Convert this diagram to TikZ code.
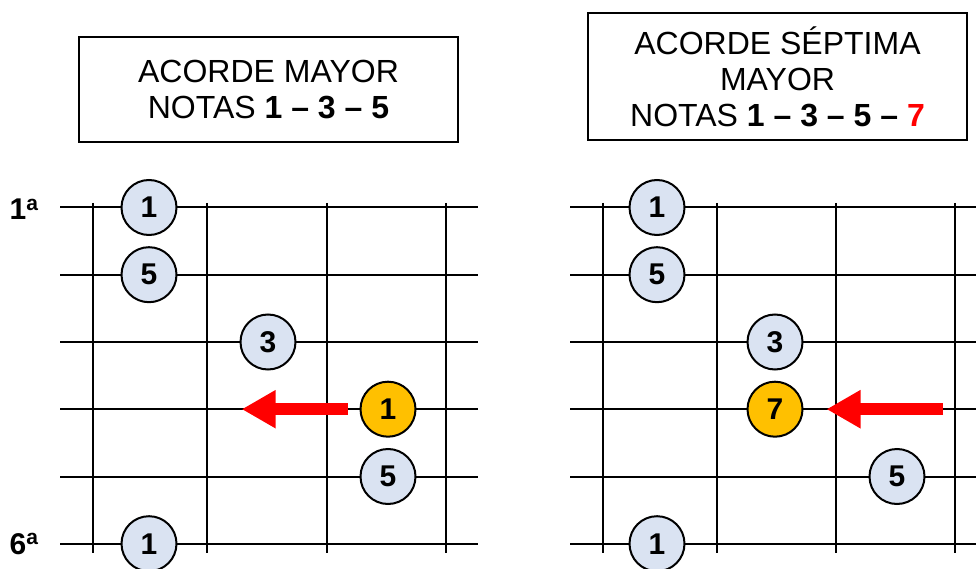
\documentclass[tikz,border=0pt]{standalone}
\usepackage{fontspec}
\setmainfont{Liberation Sans}
\usetikzlibrary{arrows.meta}

\definecolor{notaazul}{HTML}{DAE3F2}
\definecolor{notanaranja}{HTML}{FFC000}

\tikzset{
  cuerda/.style={line width=2pt},
  nota/.style={circle,draw,line width=2pt,fill=notaazul,minimum size=55pt,inner sep=0pt,
    font=\fontsize{30}{30}\selectfont\bfseries},
  notanueva/.style={nota,fill=notanaranja},
  titulo/.style={draw,line width=1.8pt,align=center,minimum width=379pt,
    font=\fontsize{32}{36}\selectfont},
  etiqueta/.style={anchor=base,font=\fontsize{30}{30}\selectfont\bfseries},
  flecha/.style={red,line width=12pt,-{Triangle[length=34pt,width=36pt]}},
}

\begin{document}
\begin{tikzpicture}[x=1pt,y=-1pt]
  \useasboundingbox (0,0) rectangle (976,569);

  % Titles
  \node[titulo,minimum height=105pt] (tituloA) at (268.5,89.5)
    {ACORDE MAYOR\\NOTAS \textbf{1 – 3 – 5}};
  \node[titulo,minimum height=127pt] (tituloB) at (777.5,76.5)
    {ACORDE SÉPTIMA\\MAYOR\\NOTAS \textbf{1 – 3 – 5 – \textcolor{red}{7}}};

  % Strings and frets
  \foreach \y in {207.5,274.7,342,409.2,476.5,543.7} {
    \draw[cuerda] (60,\y) -- (478,\y);
    \draw[cuerda] (570,\y) -- (976,\y);
  }
  \foreach \x in {93,207,327,446,603,717,836,955}
    \draw[cuerda] (\x,203) -- (\x,553);

  % String labels
  \node[etiqueta] (prima) at (24,220) {1\textsuperscript{a}};
  \node[etiqueta] (sexta) at (24,554) {6\textsuperscript{a}};

  % Major chord
  \node[nota] (a1) at (149,207.5) {1};
  \node[nota] (a2) at (149,274.7) {5};
  \node[nota] (a3) at (268,342) {3};
  \node[notanueva] (a4) at (388,409.2) {1};
  \node[nota] (a5) at (388,476.5) {5};
  \node[nota] (a6) at (149,543.7) {1};

  % Major seventh chord
  \node[nota] (b1) at (657,207.5) {1};
  \node[nota] (b2) at (657,274.7) {5};
  \node[nota] (b3) at (775,342) {3};
  \node[notanueva] (b4) at (775,409.2) {7};
  \node[nota] (b5) at (897,476.5) {5};
  \node[nota] (b6) at (657,543.7) {1};

  % Arrows
  \coordinate (puntaA) at (241.7,409.2);
  \coordinate (colaB) at (943,409.2);
  \draw[flecha] ([xshift=-12pt]a4.west) -- (puntaA);
  \draw[flecha] (colaB) -- ([xshift=23pt]b4.east);
\end{tikzpicture}
\end{document}
